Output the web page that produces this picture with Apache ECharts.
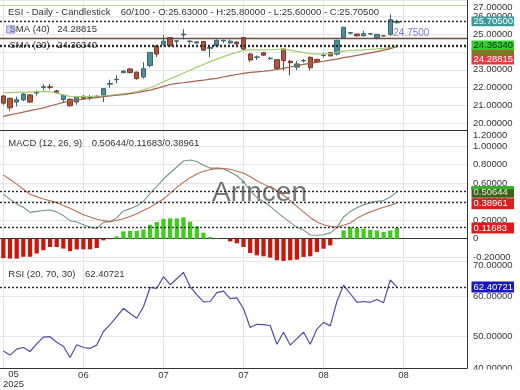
<!DOCTYPE html>
<html>
<head>
<meta charset="utf-8">
<script src="https://cdn.jsdelivr.net/npm/echarts@6/dist/echarts.min.js"></script>
<style>
html,body{margin:0;padding:0;background:#ffffff;}
#chart{width:520px;height:390px;}
</style>
</head>
<body>
<div id="chart"></div>
<script>
// ---------------- data ----------------
const tickLabels = ['05\n2025', '06', '07', '07', '08', '08'];
const tickIndex = [0, 12, 24, 36, 48, 60];
const slotCount = 70;

const opens  = [21.54,21.41,21.20,21.32,21.60,21.70,22.02,22.05,21.82,21.35,21.36,21.20,21.52,21.46,21.50,21.59,22.20,22.45,22.85,23.05,
                22.87,22.60,23.24,24.34,24.43,24.80,24.60,24.95,24.58,24.50,24.58,24.20,24.34,24.62,24.50,24.55,24.80,23.88,23.70,23.95,
                23.63,23.57,24.16,23.48,23.15,23.50,23.70,23.58,23.80,23.96,23.88,24.80,25.05,25.00,24.90,25.00,24.75,24.90,24.98,25.63];
const closes = [21.14,20.88,21.33,21.65,21.20,21.75,22.05,22.03,21.75,21.58,20.99,21.50,21.42,21.48,21.52,21.95,22.24,22.47,22.93,22.85,
                22.51,23.06,23.97,23.88,24.60,24.34,24.62,25.00,24.60,24.56,24.10,24.25,24.65,24.65,24.60,24.45,24.16,23.55,23.72,23.82,
                23.65,23.08,23.52,23.40,23.33,23.52,23.12,23.45,23.82,23.78,24.65,25.38,25.08,24.90,25.02,25.02,24.98,24.90,25.80,25.705];
const lows   = [21.05,20.72,20.95,21.25,21.15,21.55,21.85,21.90,21.68,21.20,20.95,21.05,21.35,21.30,21.42,21.20,22.00,22.25,22.80,22.80,
                22.45,22.51,23.15,23.72,24.34,24.30,24.35,24.70,24.45,24.45,24.05,23.70,24.30,24.50,24.45,24.35,24.10,23.45,23.55,23.78,
                23.55,23.00,22.97,22.70,22.98,23.40,22.97,23.40,23.70,23.75,23.80,24.75,24.98,24.85,24.88,24.95,24.70,24.88,24.90,25.60];
const highs  = [21.60,21.45,21.50,21.70,21.65,21.85,22.20,22.20,21.88,21.60,21.40,21.55,21.58,21.60,21.60,21.98,22.45,22.70,22.97,23.10,
                22.90,23.42,24.00,24.35,24.95,24.82,24.65,25.27,24.65,24.60,24.60,24.30,24.70,24.68,24.70,24.60,24.85,23.95,23.80,24.00,
                23.72,23.60,24.20,23.55,23.50,23.60,23.75,23.62,23.95,24.00,24.68,25.40,25.12,25.02,25.18,25.05,25.00,24.93,26.10,25.80];

const sma20 = [21.72,21.73,21.74,21.75,21.76,21.78,21.80,21.78,21.70,21.60,21.52,21.50,21.50,21.51,21.53,21.55,21.58,21.62,21.66,21.70,
               21.78,21.88,22.00,22.15,22.33,22.50,22.65,22.82,22.98,23.15,23.30,23.46,23.60,23.74,23.86,23.98,24.08,24.12,24.12,24.12,
               24.13,24.15,24.16,24.10,24.03,23.96,23.90,23.88,23.88,23.90,23.98,24.04,24.08,24.10,24.12,24.15,24.17,24.20,24.25,24.3634];
const sma40 = [20.40,20.48,20.56,20.64,20.72,20.80,20.88,20.98,21.08,21.18,21.26,21.32,21.36,21.40,21.45,21.50,21.54,21.58,21.62,21.67,
               21.72,21.80,21.87,21.96,22.08,22.18,22.24,22.28,22.33,22.38,22.42,22.48,22.52,22.60,22.68,22.74,22.80,22.86,22.89,22.92,
               22.96,23.02,23.08,23.16,23.24,23.30,23.36,23.42,23.48,23.54,23.60,23.68,23.74,23.81,23.88,23.95,24.02,24.10,24.18,24.28815];

const macdLine   = [0.480,0.425,0.375,0.340,0.285,0.295,0.305,0.310,0.290,0.250,0.195,0.180,0.150,0.125,0.110,0.177,0.185,0.225,0.300,0.325,
                    0.355,0.405,0.490,0.565,0.645,0.710,0.775,0.840,0.850,0.835,0.795,0.763,0.765,0.757,0.720,0.680,0.620,0.516,0.447,0.400,
                    0.350,0.287,0.230,0.177,0.124,0.093,0.040,0.037,0.042,0.063,0.120,0.235,0.295,0.335,0.368,0.387,0.405,0.412,0.450,0.50644];
const signalLine = [0.690,0.640,0.590,0.535,0.480,0.455,0.430,0.410,0.390,0.360,0.330,0.295,0.260,0.235,0.210,0.195,0.185,0.200,0.215,0.240,
                    0.270,0.305,0.340,0.385,0.430,0.490,0.555,0.610,0.660,0.700,0.730,0.745,0.760,0.757,0.750,0.730,0.710,0.670,0.627,0.590,
                    0.555,0.520,0.470,0.410,0.350,0.290,0.230,0.180,0.150,0.135,0.125,0.145,0.170,0.220,0.260,0.290,0.315,0.340,0.360,0.38961];
const histogram  = [-0.210,-0.215,-0.215,-0.195,-0.195,-0.160,-0.125,-0.090,-0.090,-0.107,-0.135,-0.115,-0.115,-0.115,-0.100,-0.018,-0.005,0.025,0.080,0.085,
                    0.085,0.100,0.150,0.180,0.215,0.220,0.220,0.230,0.185,0.135,0.065,0.018,0.005,-0.003,-0.030,-0.050,-0.090,-0.154,-0.180,-0.190,
                    -0.204,-0.233,-0.240,-0.233,-0.226,-0.197,-0.190,-0.143,-0.108,-0.072,-0.005,0.090,0.125,0.115,0.108,0.097,0.090,0.072,0.090,0.11683];

const rsi = [46.4,45.4,46.9,47.3,46.3,48.2,49.9,50.0,48.6,47.6,44.8,48.0,47.3,47.1,47.9,51.3,53.0,55.0,57.1,55.8,
             54.6,57.5,62.3,62.1,65.0,63.0,64.5,66.1,62.5,60.5,58.7,58.8,61.0,61.4,59.5,59.7,57.0,52.3,53.1,53.0,
             52.8,48.1,51.1,47.9,49.5,51.1,48.1,51.9,53.6,52.7,58.8,62.9,60.8,58.6,58.8,58.6,59.3,58.5,64.2,62.40721];

const lastClose = 25.705;
const drawnLevel = 24.75;
const topLevel = 26.6;

// ---------------- chart ----------------
const categories = Array.from({length: slotCount}, (_, i) => String(i));
const FF = '"Liberation Sans", Arial, sans-serif';
const FS = 9.5;
const TXT = '#333333';

function fmt(step) {
  return function (v) {
    const r = v / step;
    if (Math.abs(r - Math.round(r)) > 1e-6) return '';
    if (Math.abs(v) < 1e-9) return '0';
    return v.toFixed(5);
  };
}

const dotted = {color: '#2a2a2a', width: 1.4, type: [2, 2]};

function yAxisFor(gi, min, max, split, step) {
  return {
    gridIndex: gi, type: 'value', position: 'right', min: min, max: max, splitNumber: split,
    axisLine: {show: true, lineStyle: {color: '#333', width: 1}},
    axisTick: {show: false},
    splitLine: {show: true, lineStyle: {color: '#e6e6e6', width: 1}},
    axisLabel: {formatter: fmt(step), color: TXT, fontSize: FS, fontFamily: FF, margin: 6}
  };
}

function xAxisFor(gi, showLabels) {
  return {
    gridIndex: gi, type: 'category', data: categories, boundaryGap: true,
    axisLine: {show: true, lineStyle: {color: '#333', width: 1}},
    axisTick: {show: false},
    splitLine: {show: false},
    axisLabel: showLabels ? {
      show: true,
      interval: function (idx) { return tickIndex.indexOf(idx) > 0; },
      formatter: function (val, idx) { const k = tickIndex.indexOf(Number(val)); return k > 0 ? tickLabels[k] : ''; },
      color: TXT, fontSize: FS, fontFamily: FF, margin: 2, lineHeight: 10
    } : {show: false}
  };
}

function vGridSeries(gi) {
  return {
    type: 'line', xAxisIndex: gi, yAxisIndex: gi, data: [], silent: true, z: 0,
    markLine: {
      silent: true, z: 0, symbol: ['none', 'none'], label: {show: false}, animation: false,
      lineStyle: {color: '#e3e3e3', width: 1, type: 'solid'},
      data: tickIndex.map(i => ({xAxis: i}))
    }
  };
}

const candleData = opens.map((o, i) => [o, closes[i], lows[i], highs[i]]);

const chart = echarts.init(document.getElementById('chart'), null, {renderer: 'canvas'});

chart.setOption({
  animation: false,
  backgroundColor: '#ffffff',
  grid: [
    {left: 0, width: 467, top: 0, height: 130},
    {left: 0, width: 467, top: 130, height: 131},
    {left: 0, width: 467, top: 261, height: 107}
  ],
  xAxis: [xAxisFor(0, false), xAxisFor(1, false), xAxisFor(2, true)],
  yAxis: [
    yAxisFor(0, 19.64, 26.9, 7, 1),
    yAxisFor(1, -0.241, 1.175, 7, 0.2),
    yAxisFor(2, 42.17, 68.93, 3, 10)
  ],
  series: [
    vGridSeries(0), vGridSeries(1), vGridSeries(2),
    {
      name: 'ESI', type: 'candlestick', xAxisIndex: 0, yAxisIndex: 0, data: candleData, barWidth: '72%',
      itemStyle: {color: '#4f8f98', color0: '#ad553f', borderColor: '#3a646d', borderColor0: '#75382b', borderWidth: 1},
      markLine: {
        silent: true, symbol: ['none', 'none'], label: {show: false}, animation: false,
        data: [
          {yAxis: topLevel, lineStyle: {color: '#b9d99a', width: 1, type: 'solid'}},
          {yAxis: lastClose, lineStyle: dotted},
          {yAxis: drawnLevel, lineStyle: {color: '#6e4a3e', width: 1.3, type: 'solid'}},
          {yAxis: sma20[sma20.length - 1], lineStyle: dotted},
          {yAxis: sma40[sma40.length - 1], lineStyle: dotted}
        ]
      }
    },
    {name: 'SMA (20)', type: 'line', xAxisIndex: 0, yAxisIndex: 0, data: sma20, symbol: 'none',
     lineStyle: {color: '#9fcf6c', width: 1.2}},
    {name: 'SMA (40)', type: 'line', xAxisIndex: 0, yAxisIndex: 0, data: sma40, symbol: 'none',
     lineStyle: {color: '#a3604c', width: 1.2}},
    {
      name: 'Hist', type: 'bar', xAxisIndex: 1, yAxisIndex: 1, barWidth: '64%',
      data: histogram.map(v => ({value: v, itemStyle: {color: v >= 0 ? '#3fcc1f' : '#c8170e'}})),
      markLine: {
        silent: true, symbol: ['none', 'none'], label: {show: false}, animation: false,
        data: [
          {yAxis: macdLine[macdLine.length - 1], lineStyle: dotted},
          {yAxis: signalLine[signalLine.length - 1], lineStyle: dotted},
          {yAxis: histogram[histogram.length - 1], lineStyle: dotted}
        ]
      }
    },
    {name: 'MACD', type: 'line', xAxisIndex: 1, yAxisIndex: 1, data: macdLine, symbol: 'none',
     lineStyle: {color: '#6f9884', width: 1.1}},
    {name: 'Signal', type: 'line', xAxisIndex: 1, yAxisIndex: 1, data: signalLine, symbol: 'none',
     lineStyle: {color: '#b47256', width: 1.1}},
    {
      name: 'RSI', type: 'line', xAxisIndex: 2, yAxisIndex: 2, data: rsi, symbol: 'none',
      lineStyle: {color: '#4e4e9e', width: 1.2},
      markLine: {
        silent: true, symbol: ['none', 'none'], label: {show: false}, animation: false,
        data: [{yAxis: rsi[rsi.length - 1], lineStyle: dotted}]
      }
    }
  ]
});

// --------- overlays positioned through the axes ---------
const yp = (ai, v) => chart.convertToPixel({yAxisIndex: ai}, v);
const xp = (i) => chart.convertToPixel({xAxisIndex: 0}, i);

function txt(x, y, s, opt) {
  opt = opt || {};
  return {type: 'text', z: opt.z || 1, style: {
    x: x, y: y, text: s, fill: opt.fill || TXT, font: (opt.size || FS) + 'px ' + FF,
    textAlign: opt.align || 'left', textVerticalAlign: opt.valign || 'middle', lineHeight: opt.lh
  }};
}
function box(y0, y1, fill, z) {
  return {type: 'rect', z: z || 100, shape: {x: 471.5, y: y0, width: 42.5, height: y1 - y0}, style: {fill: fill}};
}

const yClose = yp(0, lastClose);
const ySma20 = yp(0, sma20[sma20.length - 1]);
const yMacd = yp(1, macdLine[macdLine.length - 1]);
const ySig = yp(1, signalLine[signalLine.length - 1]);
const yHist = yp(1, histogram[histogram.length - 1]);
const yRsi = yp(2, rsi[rsi.length - 1]);

const els = [
  // headers
  txt(8, 12.5, 'ESI - Daily - Candlestick'),
  txt(120.7, 12.5, '60/100 - O:25.63000 - H:25.80000 - L:25.60000 - C:25.70500'),
  {type: 'rect', z: 2, shape: {x: 6.7, y: 26, width: 8, height: 7}, style: {fill: 'rgba(120,120,215,0.35)', stroke: '#8a8ad6', lineWidth: 1}},
  txt(9.5, 29.5, 'SMA (40)'),
  txt(57.3, 29.5, sma40[sma40.length - 1].toFixed(5)),
  txt(9.5, 45.5, 'SMA (20)'),
  txt(57.3, 45.5, sma20[sma20.length - 1].toFixed(5)),
  txt(8.3, 143.3, 'MACD (12, 26, 9)'),
  txt(91.7, 143.3, macdLine[macdLine.length - 1].toFixed(5) + '/' + histogram[histogram.length - 1].toFixed(5) + '/' + signalLine[signalLine.length - 1].toFixed(5)),
  txt(8.3, 274, 'RSI (20, 70, 30)'),
  txt(85, 274, rsi[rsi.length - 1].toFixed(5)),
  // watermark
  txt(259.5, 193, 'Arincen', {size: 28, fill: 'rgba(90,90,90,0.85)', align: 'center'}),
  // drawn level label
  txt(xp(58) + 3, yp(0, drawnLevel) - 5, drawnLevel.toFixed(4), {fill: '#7c7cd6', size: 10}),
  // clamped axis labels
  txt(473, 7, '27.00000', {z: 50}),
  txt(473, 135, '1.20000', {z: 50}),
  txt(473, 265.5, '70.00000', {z: 50}),
  txt(473, 368.5, '40.00000', {z: 50}),
  {type: 'rect', z: 120, shape: {x: 469, y: 369.5, width: 51, height: 20}, style: {fill: '#ffffff'}},
  // first x label
  txt(13.5, 369.5, tickLabels[0], {align: 'center', valign: 'top', lh: 10}),
  // right value boxes
  box(yClose - 4.8, yClose + 4.8, '#3b9a99'),
  txt(473.5, yClose, lastClose.toFixed(5), {fill: '#ffffff', z: 101}),
  box(ySma20 + 9.5, ySma20 + 19, '#e63a40'),
  txt(473.5, ySma20 + 14.3, sma40[sma40.length - 1].toFixed(5), {fill: '#ffffff', z: 101}),
  box(ySma20 + 4.2, ySma20 + 9.6, '#7e7a22', 102),
  box(ySma20 - 4.8, ySma20 + 4.3, '#30d12f', 102),
  txt(473.5, ySma20, sma20[sma20.length - 1].toFixed(5), {fill: '#1d2a1d', z: 103}),
  box(ySig - 4.5, ySig + 6.5, '#d81f1f'),
  txt(473.5, ySig + 1, signalLine[signalLine.length - 1].toFixed(5), {fill: '#ffffff', z: 101}),
  box(yMacd - 5.5, yMacd + 6, '#3e5f18', 102),
  box(yMacd - 5.5, yMacd - 2.5, '#2fb62c', 102),
  txt(473.5, yMacd + 1, macdLine[macdLine.length - 1].toFixed(5), {fill: '#e8e8e8', z: 103}),
  box(yHist - 5.5, yHist + 5.5, '#e01b1b'),
  txt(473.5, yHist, histogram[histogram.length - 1].toFixed(5), {fill: '#ffffff', z: 101}),
  box(yRsi - 5.5, yRsi + 5.5, '#1616c6'),
  txt(473.5, yRsi, rsi[rsi.length - 1].toFixed(5), {fill: '#ffffff', z: 101})
];

chart.setOption({graphic: {elements: els}});
</script>
</body>
</html>
